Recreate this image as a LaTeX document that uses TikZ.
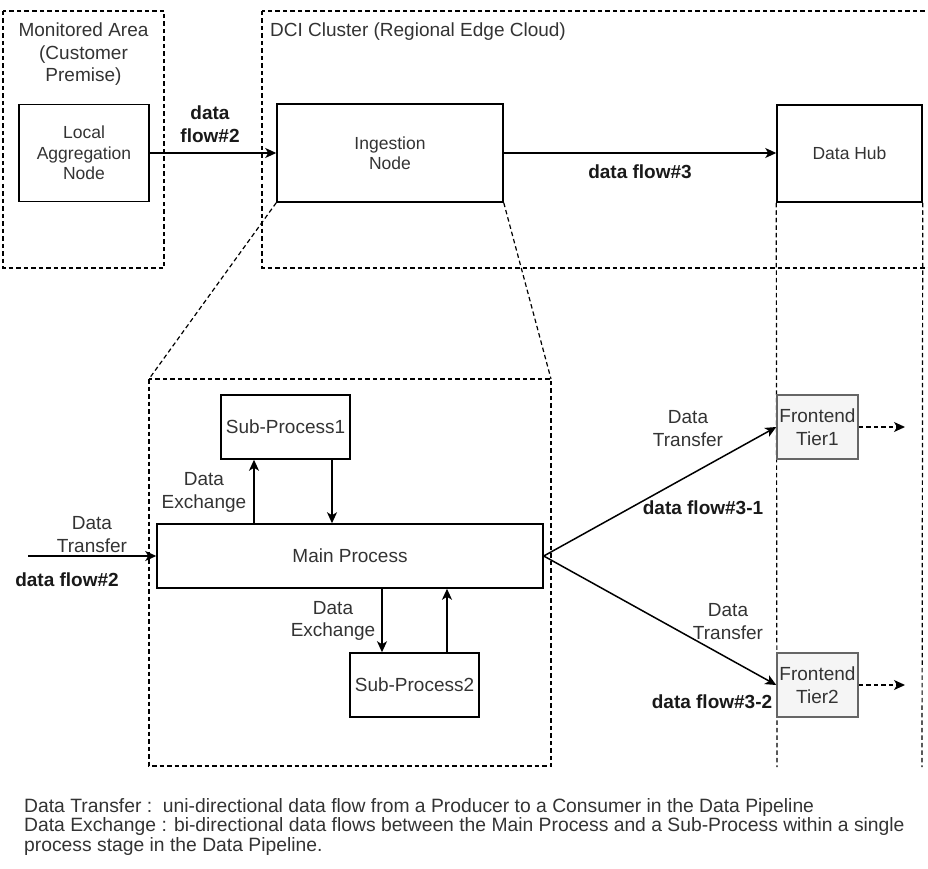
\documentclass[tikz,border=0pt]{standalone}
\usepackage{fontspec}
\setmainfont{Liberation Sans}
\usetikzlibrary{arrows.meta}
\definecolor{txt}{HTML}{333333}
\definecolor{tierfill}{HTML}{F5F5F5}
\definecolor{tierline}{HTML}{666666}
\newcommand\lblfont{\fontsize{19}{22.5}\selectfont}
\newcommand\smlfont{\fontsize{17.5}{20.5}\selectfont}
\newcommand\boldfont{\fontsize{19}{23}\selectfont\bfseries}
\newcommand\notefont{\fontsize{19.3}{19.5}\selectfont}
\begin{document}
\begin{tikzpicture}[x=1pt,y=-1pt,
  box/.style={draw, line width=1.5pt, inner sep=0pt, align=center, text=txt, font=\lblfont},
  tier/.style={box, fill=tierfill, draw=tierline},
  region/.style={draw, line width=1.2pt, dash pattern=on 4.5pt off 3pt},
  arr/.style={line width=1.5pt, -{Stealth[length=11pt,width=10pt,inset=3pt]}},
  darr/.style={arr, dash pattern=on 4.5pt off 3pt},
  lbl/.style={align=center, inner sep=0pt, text=txt, font=\lblfont},
  blbl/.style={align=center, inner sep=0pt, text=black!90, font=\boldfont}]
\useasboundingbox (0,0) rectangle (928,869);

% dashed regions
\draw[region] (3,11) rectangle (164,268);
\draw[region] (262,11) rectangle (940,268);
\node[lbl] (monarea) at (83.5,54.5) {Monitored Area\\(Customer\\Premise)};
\node[lbl, anchor=west] (dcilbl) at (270,32) {DCI Cluster (Regional Edge Cloud)};

% top row
\node[box, font=\smlfont, minimum width=130, minimum height=97] (lan) at (84,153) {Local\\Aggregation\\Node};
\node[box, font=\smlfont, minimum width=226, minimum height=98] (ing) at (390,153) {Ingestion\\Node};
\node[box, font=\smlfont, minimum width=145, minimum height=97] (hub) at (849.5,153.5) {Data Hub};

\draw[arr] (lan.east) -- (ing.west);
\node[blbl] (df2top) at (210,124) {data\\flow\#2};
\draw[arr] (ing.east) -- (hub.west |- ing.east);
\node[blbl] (df3) at (640,172) {data flow\#3};

% lanes under the data hub
\coordinate (laneL) at (777,767);
\coordinate (laneR) at (922,767);
\draw[region] (hub.south west) -- (laneL);
\draw[region] (hub.south east) -- (laneR);

% zoomed view of the ingestion node
\coordinate (zl) at (149,379);
\coordinate (zr) at (551,379);
\draw[region] (zl) rectangle (551,766);
\draw[region] (ing.south west) -- (zl);
\draw[region] (ing.south east) -- (zr);

\node[box, minimum width=129, minimum height=64] (sp1) at (285.5,427) {Sub-Process1};
\node[box, minimum width=386, minimum height=64] (main) at (350,556) {Main Process};
\node[box, minimum width=129, minimum height=64] (sp2) at (414.5,685) {Sub-Process2};

\coordinate (xa) at (254,0);
\coordinate (xb) at (332,0);
\coordinate (xc) at (382,0);
\coordinate (xd) at (447,0);
\draw[arr] (main.north -| xa) -- (sp1.south -| xa);
\draw[arr] (sp1.south -| xb) -- (main.north -| xb);
\draw[arr] (main.south -| xc) -- (sp2.north -| xc);
\draw[arr] (sp2.north -| xd) -- (main.south -| xd);
\node[lbl] (dx1) at (204,492.5) {Data\\Exchange};
\node[lbl] (dx2) at (333,621) {Data\\Exchange};

% incoming flow
\coordinate (in) at (28,556);
\draw[arr] (in) -- (main.west);
\node[lbl] (dtin) at (92,534.5) {Data\\Transfer};
\node[blbl] (df2in) at (67,580) {data flow\#2};

% frontend tiers
\node[tier, minimum width=81, minimum height=64] (t1) at (817.5,427) {Frontend\\Tier1};
\node[tier, minimum width=81, minimum height=64] (t2) at (817.5,685) {Frontend\\Tier2};
\draw[arr] (main.east) -- (t1.west);
\draw[arr] (main.east) -- (t2.west);
\coordinate (o1) at (905,427);
\coordinate (o2) at (905,685);
\draw[darr] (t1.east) -- (o1);
\draw[darr] (t2.east) -- (o2);
\node[lbl] (dt1) at (688,428.5) {Data\\Transfer};
\node[blbl] (df31) at (703,508) {data flow\#3-1};
\node[lbl] (dt2) at (728,621.5) {Data\\Transfer};
\node[blbl] (df32) at (712,702) {data flow\#3-2};

% legend
\node[lbl, font=\notefont, align=left, anchor=north west] (legend) at (24,798) {Data Transfer :\ \ uni-directional data flow from a Producer to a Consumer in the Data Pipeline\\
Data Exchange : bi-directional data flows between the Main Process and a Sub-Process within a single\\
process stage in the Data Pipeline.};
\end{tikzpicture}
\end{document}
